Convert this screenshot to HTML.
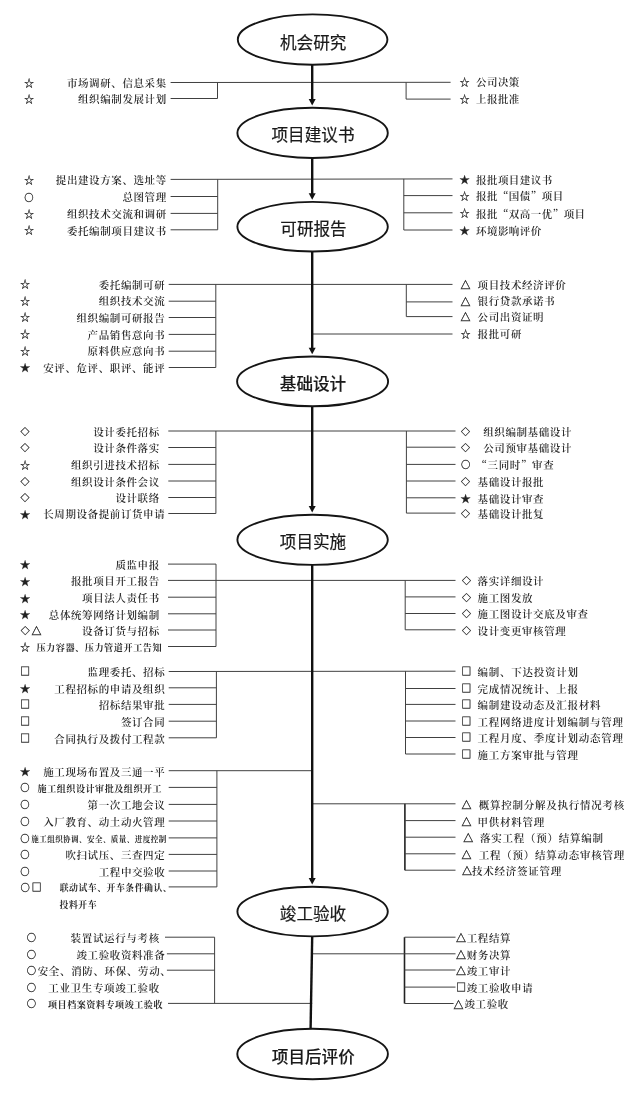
<!DOCTYPE html>
<html lang="zh-CN">
<head>
<meta charset="utf-8">
<title>项目建设流程图</title>
<style>
html,body{margin:0;padding:0;background:#fff;}
body{width:640px;height:1096px;overflow:hidden;}
svg{display:block;filter:blur(0.4px);}
.b{stroke:#404040;stroke-width:1;fill:none;}
.b2{stroke:#222;stroke-width:1.6;}
.k{stroke:#111;stroke-width:2.4;fill:none;}
.ah{fill:#111;stroke:none;}
.e{fill:#fff;stroke:#151515;stroke-width:1.9;}
.h{font-family:"Liberation Sans","Noto Sans CJK SC",sans-serif;font-size:16.6px;fill:#1a1a1a;font-weight:400;stroke:#1a1a1a;stroke-width:0.2px;}
.hb{font-weight:500;stroke-width:0.12px;}
.t{font-family:"Liberation Serif","Noto Serif CJK SC",serif;font-size:10.5px;letter-spacing:0.6px;fill:#2a2a2a;font-weight:600;}
.q{font-family:"Noto Serif CJK SC","Liberation Serif",serif;}
.o{stroke:#3a3a3a;stroke-width:0.35px;}
.p{stroke:#333;stroke-width:0.25px;}
.s{font-family:"Noto Serif CJK SC","Liberation Serif",serif;font-size:11px;fill:#222;}
.y0{font-size:10.2px;}
.y1{font-size:9.4px;}
.y2{font-size:9.0px;}
.y3{font-size:10px;}
.t4{font-size:9.17px;letter-spacing:0.52px;font-weight:700;}
.y5{font-size:9.7px;}
.t6{font-size:9.07px;letter-spacing:0.52px;font-weight:700;}
.t7{font-size:7.54px;letter-spacing:0.43px;font-weight:700;}
.t8{font-size:8.88px;letter-spacing:0.5px;font-weight:700;}
.t9{font-size:10.5px;letter-spacing:0.65px;}
.t10{font-size:10.5px;letter-spacing:0.45px;}
.t11{font-size:10.5px;letter-spacing:0.75px;}
</style>
</head>
<body>
<svg width="640" height="1096" viewBox="0 0 640 1096">
<rect x="0" y="0" width="640" height="1096" fill="#fff"/>
<line class="b" x1="217.5" y1="82.5" x2="217.5" y2="98.5"/>
<line class="b" x1="170.6" y1="98.5" x2="217.5" y2="98.5"/>
<line class="b" x1="217.7" y1="179.4" x2="217.7" y2="229.8"/>
<line class="b" x1="170.6" y1="196.5" x2="217.7" y2="196.5"/>
<line class="b" x1="170.6" y1="213.4" x2="217.7" y2="213.4"/>
<line class="b" x1="170.6" y1="229.8" x2="217.7" y2="229.8"/>
<line class="b" x1="215.8" y1="284.4" x2="215.8" y2="367.5"/>
<line class="b" x1="168.7" y1="301.2" x2="215.8" y2="301.2"/>
<line class="b" x1="168.7" y1="317.5" x2="215.8" y2="317.5"/>
<line class="b" x1="168.7" y1="334.4" x2="215.8" y2="334.4"/>
<line class="b" x1="168.7" y1="351.2" x2="215.8" y2="351.2"/>
<line class="b" x1="168.7" y1="367.5" x2="215.8" y2="367.5"/>
<line class="b" x1="215.9" y1="431.0" x2="215.9" y2="513.5"/>
<line class="b" x1="168.3" y1="447.5" x2="215.9" y2="447.5"/>
<line class="b" x1="168.3" y1="464.4" x2="215.9" y2="464.4"/>
<line class="b" x1="168.3" y1="481.0" x2="215.9" y2="481.0"/>
<line class="b" x1="168.3" y1="497.5" x2="215.9" y2="497.5"/>
<line class="b" x1="168.3" y1="513.5" x2="215.9" y2="513.5"/>
<line class="b" x1="216.0" y1="564.1" x2="216.0" y2="646.5"/>
<line class="b" x1="168.0" y1="564.1" x2="216.0" y2="564.1"/>
<line class="b" x1="168.0" y1="597.2" x2="216.0" y2="597.2"/>
<line class="b" x1="168.0" y1="613.8" x2="216.0" y2="613.8"/>
<line class="b" x1="168.0" y1="630.0" x2="216.0" y2="630.0"/>
<line class="b" x1="168.0" y1="646.5" x2="216.0" y2="646.5"/>
<line class="b" x1="216.4" y1="671.5" x2="216.4" y2="737.8"/>
<line class="b" x1="168.7" y1="687.8" x2="216.4" y2="687.8"/>
<line class="b" x1="168.7" y1="704.4" x2="216.4" y2="704.4"/>
<line class="b" x1="168.7" y1="721.2" x2="216.4" y2="721.2"/>
<line class="b" x1="168.7" y1="737.8" x2="216.4" y2="737.8"/>
<line class="b" x1="216.9" y1="770.7" x2="216.9" y2="886.9"/>
<line class="b" x1="168.7" y1="770.7" x2="312.2" y2="770.7"/>
<line class="b" x1="168.7" y1="787.4" x2="216.9" y2="787.4"/>
<line class="b" x1="168.7" y1="804.4" x2="216.9" y2="804.4"/>
<line class="b" x1="168.7" y1="821.0" x2="216.9" y2="821.0"/>
<line class="b" x1="168.7" y1="837.9" x2="216.9" y2="837.9"/>
<line class="b" x1="168.7" y1="854.4" x2="216.9" y2="854.4"/>
<line class="b" x1="168.7" y1="871.0" x2="216.9" y2="871.0"/>
<line class="b" x1="168.7" y1="886.9" x2="216.9" y2="886.9"/>
<line class="b" x1="214.6" y1="937.2" x2="214.6" y2="1003.4"/>
<line class="b" x1="165.0" y1="937.2" x2="214.6" y2="937.2"/>
<line class="b" x1="166.9" y1="953.8" x2="214.6" y2="953.8"/>
<line class="b" x1="166.9" y1="970.2" x2="214.6" y2="970.2"/>
<line class="b" x1="168.0" y1="1003.4" x2="312.2" y2="1003.4"/>
<line class="b" x1="406.1" y1="82.3" x2="406.1" y2="99.1"/>
<line class="b" x1="406.1" y1="99.1" x2="450.6" y2="99.1"/>
<line class="b" x1="403.8" y1="178.9" x2="403.8" y2="230.0"/>
<line class="b" x1="403.8" y1="195.6" x2="452.5" y2="195.6"/>
<line class="b" x1="403.8" y1="212.8" x2="452.5" y2="212.8"/>
<line class="b" x1="403.8" y1="230.0" x2="452.5" y2="230.0"/>
<line class="b" x1="406.3" y1="284.4" x2="406.3" y2="316.6"/>
<line class="b" x1="406.3" y1="301.9" x2="452.5" y2="301.9"/>
<line class="b" x1="406.3" y1="316.6" x2="452.5" y2="316.6"/>
<line class="b" x1="312.2" y1="334.0" x2="452.5" y2="334.0"/>
<line class="b" x1="406.4" y1="431.0" x2="406.4" y2="513.1"/>
<line class="b" x1="406.4" y1="447.2" x2="455.5" y2="447.2"/>
<line class="b" x1="406.4" y1="464.4" x2="455.5" y2="464.4"/>
<line class="b" x1="406.4" y1="481.0" x2="455.5" y2="481.0"/>
<line class="b" x1="406.4" y1="497.8" x2="455.5" y2="497.8"/>
<line class="b" x1="406.4" y1="513.1" x2="455.5" y2="513.1"/>
<line class="b" x1="405.2" y1="580.4" x2="405.2" y2="629.8"/>
<line class="b" x1="405.2" y1="596.9" x2="455.5" y2="596.9"/>
<line class="b" x1="405.2" y1="613.5" x2="455.5" y2="613.5"/>
<line class="b" x1="405.2" y1="629.8" x2="455.5" y2="629.8"/>
<line class="b" x1="405.5" y1="671.2" x2="405.5" y2="754.0"/>
<line class="b" x1="405.5" y1="688.5" x2="455.5" y2="688.5"/>
<line class="b" x1="405.5" y1="704.4" x2="455.5" y2="704.4"/>
<line class="b" x1="405.5" y1="721.0" x2="455.5" y2="721.0"/>
<line class="b" x1="405.5" y1="737.5" x2="455.5" y2="737.5"/>
<line class="b" x1="405.5" y1="754.0" x2="455.5" y2="754.0"/>
<line class="b b2" x1="404.9" y1="803.8" x2="404.9" y2="870.2"/>
<line class="b" x1="312.2" y1="803.8" x2="455.5" y2="803.8"/>
<line class="b" x1="404.9" y1="820.6" x2="455.5" y2="820.6"/>
<line class="b" x1="404.9" y1="837.2" x2="455.5" y2="837.2"/>
<line class="b" x1="404.9" y1="853.8" x2="455.5" y2="853.8"/>
<line class="b" x1="404.9" y1="870.2" x2="455.5" y2="870.2"/>
<line class="b b2" x1="404.5" y1="937.2" x2="404.5" y2="1003.5"/>
<line class="b" x1="404.5" y1="937.2" x2="455.5" y2="937.2"/>
<line class="b" x1="312.2" y1="953.8" x2="455.5" y2="953.8"/>
<line class="b" x1="404.5" y1="970.0" x2="455.5" y2="970.0"/>
<line class="b" x1="404.5" y1="987.1" x2="455.5" y2="987.1"/>
<line class="b" x1="404.5" y1="1003.5" x2="453.6" y2="1003.5"/>
<line class="b" x1="170.6" y1="82.5" x2="450.6" y2="82.3"/>
<line class="b" x1="170.6" y1="179.4" x2="452.5" y2="178.9"/>
<line class="b" x1="168.7" y1="284.4" x2="452.5" y2="284.4"/>
<line class="b" x1="168.3" y1="431.0" x2="455.5" y2="431.0"/>
<line class="b" x1="168.0" y1="580.4" x2="455.5" y2="580.4"/>
<line class="b" x1="168.7" y1="671.5" x2="455.5" y2="671.2"/>
<line class="k" x1="312.2" y1="64.8" x2="312.2" y2="101.8"/>
<path class="ah" d="M308.7 99.0 L315.7 99.0 L312.2 105.5 Z"/>
<line class="k" x1="312.2" y1="158.0" x2="312.2" y2="196.0"/>
<path class="ah" d="M308.7 193.2 L315.7 193.2 L312.2 199.8 Z"/>
<line class="k" x1="312.2" y1="251.4" x2="312.2" y2="350.5"/>
<path class="ah" d="M308.7 347.7 L315.7 347.7 L312.2 354.3 Z"/>
<line class="k" x1="312.2" y1="406.2" x2="312.2" y2="508.8"/>
<path class="ah" d="M308.7 505.9 L315.7 505.9 L312.2 512.5 Z"/>
<line class="k" x1="312.2" y1="564.9" x2="312.2" y2="880.8"/>
<path class="ah" d="M308.7 878.0 L315.7 878.0 L312.2 884.5 Z"/>
<line class="k" x1="312.2" y1="936.4" x2="310.6" y2="1028.2"/>
<ellipse class="e" cx="312.6" cy="39.6" rx="74.8" ry="25.2"/>
<text class="h" x="313.2" y="48.8" text-anchor="middle">机会研究</text>
<ellipse class="e" cx="312.6" cy="132.9" rx="75.2" ry="25.1"/>
<text class="h" x="313" y="140.9" text-anchor="middle">项目建议书</text>
<ellipse class="e" cx="312.6" cy="226.7" rx="75.2" ry="24.8"/>
<text class="h" x="313.5" y="234.7" text-anchor="middle">可研报告</text>
<ellipse class="e" cx="312.6" cy="381.4" rx="75.5" ry="24.9"/>
<text class="h hb" x="313" y="389.6" text-anchor="middle">基础设计</text>
<ellipse class="e" cx="312.6" cy="539.8" rx="75.2" ry="25.1"/>
<text class="h" x="313" y="547.9" text-anchor="middle">项目实施</text>
<ellipse class="e" cx="312.6" cy="911.6" rx="75.2" ry="24.8"/>
<text class="h" x="313" y="919.6" text-anchor="middle">竣工验收</text>
<ellipse class="e" cx="312.6" cy="1054" rx="75.3" ry="25.2"/>
<text class="h hb" x="313.3" y="1062.7" text-anchor="middle">项目后评价</text>
<text class="s p y0" x="29.0" y="86.8" text-anchor="middle">☆</text>
<text class="t" x="166.8" y="87.4" text-anchor="end">市场调研、信息采集</text>
<text class="s p y0" x="29.0" y="102.8" text-anchor="middle">☆</text>
<text class="t" x="166.8" y="103.4" text-anchor="end">组织编制发展计划</text>
<text class="s p y0" x="29.0" y="183.7" text-anchor="middle">☆</text>
<text class="t" x="166.8" y="184.3" text-anchor="end">提出建设方案、选址等</text>
<text class="s o y1" x="29.0" y="200.5" text-anchor="middle">○</text>
<text class="t" x="166.8" y="201.4" text-anchor="end">总图管理</text>
<text class="s p y0" x="29.0" y="217.7" text-anchor="middle">☆</text>
<text class="t" x="166.8" y="218.3" text-anchor="end">组织技术交流和调研</text>
<text class="s p y0" x="29.0" y="234.1" text-anchor="middle">☆</text>
<text class="t" x="166.8" y="234.7" text-anchor="end">委托编制项目建议书</text>
<text class="s p y0" x="25.0" y="287.9" text-anchor="middle">☆</text>
<text class="t" x="165.3" y="288.5" text-anchor="end">委托编制可研</text>
<text class="s p y0" x="25.0" y="304.8" text-anchor="middle">☆</text>
<text class="t" x="165.3" y="305.3" text-anchor="end">组织技术交流</text>
<text class="s p y0" x="25.0" y="321.0" text-anchor="middle">☆</text>
<text class="t" x="165.3" y="321.6" text-anchor="end">组织编制可研报告</text>
<text class="s p y0" x="25.0" y="337.9" text-anchor="middle">☆</text>
<text class="t" x="165.3" y="338.5" text-anchor="end">产品销售意向书</text>
<text class="s p y0" x="25.0" y="354.8" text-anchor="middle">☆</text>
<text class="t" x="165.3" y="355.3" text-anchor="end">原料供应意向书</text>
<text class="s p y0" x="25.0" y="371.0" text-anchor="middle">★</text>
<text class="t" x="165.3" y="371.6" text-anchor="end">安评、危评、职评、能评</text>
<text class="s o y2" x="25.0" y="434.8" text-anchor="middle">◇</text>
<text class="t" x="159.8" y="435.9" text-anchor="end">设计委托招标</text>
<text class="s o y2" x="25.0" y="451.3" text-anchor="middle">◇</text>
<text class="t" x="159.8" y="452.4" text-anchor="end">设计条件落实</text>
<text class="s p y0" x="25.0" y="468.7" text-anchor="middle">☆</text>
<text class="t" x="159.8" y="469.3" text-anchor="end">组织引进技术招标</text>
<text class="s o y2" x="25.0" y="484.8" text-anchor="middle">◇</text>
<text class="t" x="159.8" y="485.9" text-anchor="end">组织设计条件会议</text>
<text class="s o y2" x="25.0" y="501.3" text-anchor="middle">◇</text>
<text class="t" x="159.8" y="502.4" text-anchor="end">设计联络</text>
<text class="s p y0" x="25.0" y="517.8" text-anchor="middle">★</text>
<text class="t" x="165.3" y="518.4" text-anchor="end">长周期设备提前订货申请</text>
<text class="s p y0" x="25.0" y="568.4" text-anchor="middle">★</text>
<text class="t" x="159.8" y="569.0" text-anchor="end">质监申报</text>
<text class="s p y0" x="25.0" y="584.7" text-anchor="middle">★</text>
<text class="t" x="159.8" y="585.3" text-anchor="end">报批项目开工报告</text>
<text class="s p y0" x="25.0" y="601.5" text-anchor="middle">★</text>
<text class="t" x="159.8" y="602.1" text-anchor="end">项目法人责任书</text>
<text class="s p y0" x="25.0" y="618.0" text-anchor="middle">★</text>
<text class="t" x="159.8" y="618.6" text-anchor="end">总体统筹网络计划编制</text>
<text class="s o y2" x="25.3" y="633.8" text-anchor="middle">◇</text>
<text class="s o y3" x="36.6" y="635.1" text-anchor="middle">△</text>
<text class="t" x="159.8" y="634.9" text-anchor="end">设备订货与招标</text>
<text class="s p y0" x="25.0" y="650.8" text-anchor="middle">☆</text>
<text class="t t4" x="162.2" y="650.8" text-anchor="end">压力容器、压力管道开工告知</text>
<text class="s o y5" x="25.0" y="675.4" text-anchor="middle">□</text>
<text class="t" x="165.3" y="676.4" text-anchor="end">监理委托、招标</text>
<text class="s p y0" x="25.0" y="692.0" text-anchor="middle">★</text>
<text class="t" x="165.3" y="692.6" text-anchor="end">工程招标的申请及组织</text>
<text class="s o y5" x="25.0" y="708.3" text-anchor="middle">□</text>
<text class="t" x="165.3" y="709.3" text-anchor="end">招标结果审批</text>
<text class="s o y5" x="25.0" y="725.1" text-anchor="middle">□</text>
<text class="t" x="165.3" y="726.1" text-anchor="end">签订合同</text>
<text class="s o y5" x="25.0" y="741.6" text-anchor="middle">□</text>
<text class="t" x="165.3" y="742.6" text-anchor="end">合同执行及拨付工程款</text>
<text class="s p y0" x="25.0" y="775.0" text-anchor="middle">★</text>
<text class="t" x="165.3" y="775.6" text-anchor="end">施工现场布置及三通一平</text>
<text class="s o y1" x="25.0" y="791.4" text-anchor="middle">○</text>
<text class="t t6" x="162.2" y="791.7" text-anchor="end">施工组织设计审批及组织开工</text>
<text class="s o y1" x="25.0" y="808.4" text-anchor="middle">○</text>
<text class="t" x="165.3" y="809.3" text-anchor="end">第一次工地会议</text>
<text class="s o y1" x="25.0" y="825.0" text-anchor="middle">○</text>
<text class="t" x="165.3" y="825.9" text-anchor="end">入厂教育、动土动火管理</text>
<text class="s o y1" x="25.0" y="841.9" text-anchor="middle">○</text>
<text class="t t7" x="166.6" y="841.5" text-anchor="end">施工组织协调、安全、质量、进度控制</text>
<text class="s o y1" x="25.0" y="858.4" text-anchor="middle">○</text>
<text class="t" x="165.3" y="859.3" text-anchor="end">吹扫试压、三查四定</text>
<text class="s o y1" x="25.0" y="875.0" text-anchor="middle">○</text>
<text class="t" x="165.3" y="875.9" text-anchor="end">工程中交验收</text>
<text class="s o y1" x="25.3" y="890.9" text-anchor="middle">○</text>
<text class="s o y5" x="36.6" y="890.8" text-anchor="middle">□</text>
<text class="t t8" x="172.2" y="891.1" text-anchor="end">联动试车、开车条件确认、</text>
<text class="s o y1" x="31.4" y="941.2" text-anchor="middle">○</text>
<text class="t t9" x="159.8" y="942.1" text-anchor="end">装置试运行与考核</text>
<text class="s o y1" x="31.4" y="957.8" text-anchor="middle">○</text>
<text class="t" x="165.3" y="958.6" text-anchor="end">竣工验收资料准备</text>
<text class="s o y1" x="31.4" y="974.2" text-anchor="middle">○</text>
<text class="t t9" x="171.5" y="975.1" text-anchor="end">安全、消防、环保、劳动、</text>
<text class="s o y1" x="31.4" y="990.9" text-anchor="middle">○</text>
<text class="t t9" x="159.8" y="991.8" text-anchor="end">工业卫生专项竣工验收</text>
<text class="s o y1" x="31.4" y="1007.4" text-anchor="middle">○</text>
<text class="t t6" x="163.0" y="1007.7" text-anchor="end">项目档案资料专项竣工验收</text>
<text class="t t8" x="59.6" y="908.4">投料开车</text>
<text class="s p y0" x="464.5" y="85.7" text-anchor="middle">☆</text>
<text class="t t10" x="476.0" y="86.2">公司决策</text>
<text class="s p y0" x="464.5" y="102.5" text-anchor="middle">☆</text>
<text class="t t10" x="476.0" y="103.0">上报批准</text>
<text class="s p y0" x="464.5" y="183.2" text-anchor="middle">★</text>
<text class="t t10" x="476.0" y="183.7">报批项目建议书</text>
<text class="s p y0" x="464.5" y="199.9" text-anchor="middle">☆</text>
<text class="t t10" x="476.0" y="200.4">报批<tspan class="q">“</tspan>国债<tspan class="q">”</tspan>项目</text>
<text class="s p y0" x="464.5" y="217.1" text-anchor="middle">☆</text>
<text class="t t10" x="476.0" y="217.6">报批<tspan class="q">“</tspan>双高一优<tspan class="q">”</tspan>项目</text>
<text class="s p y0" x="464.5" y="234.3" text-anchor="middle">★</text>
<text class="t t10" x="476.0" y="234.8">环境影响评价</text>
<text class="s o y3" x="465.6" y="288.7" text-anchor="middle">△</text>
<text class="t" x="477.6" y="288.5">项目技术经济评价</text>
<text class="s o y3" x="465.6" y="305.6" text-anchor="middle">△</text>
<text class="t" x="477.6" y="305.4">银行贷款承诺书</text>
<text class="s o y3" x="465.6" y="320.9" text-anchor="middle">△</text>
<text class="t" x="477.6" y="320.7">公司出资证明</text>
<text class="s p y0" x="465.6" y="337.5" text-anchor="middle">☆</text>
<text class="t" x="477.6" y="338.1">报批可研</text>
<text class="s o y2" x="465.6" y="434.8" text-anchor="middle">◇</text>
<text class="t" x="483.2" y="435.9">组织编制基础设计</text>
<text class="s o y2" x="465.6" y="451.1" text-anchor="middle">◇</text>
<text class="t" x="483.2" y="452.1">公司预审基础设计</text>
<text class="s o y1" x="465.6" y="468.4" text-anchor="middle">○</text>
<text class="t" x="476.5" y="469.3"><tspan class="q">“</tspan>三同时<tspan class="q">”</tspan>审查</text>
<text class="s o y2" x="465.6" y="484.8" text-anchor="middle">◇</text>
<text class="t" x="477.6" y="485.9">基础设计报批</text>
<text class="s p y0" x="465.6" y="502.1" text-anchor="middle">★</text>
<text class="t" x="477.6" y="502.6">基础设计审查</text>
<text class="s o y2" x="465.6" y="516.9" text-anchor="middle">◇</text>
<text class="t" x="477.6" y="518.0">基础设计批复</text>
<text class="s o y2" x="466.4" y="584.2" text-anchor="middle">◇</text>
<text class="t" x="477.6" y="585.3">落实详细设计</text>
<text class="s o y2" x="466.4" y="600.7" text-anchor="middle">◇</text>
<text class="t" x="477.6" y="601.8">施工图发放</text>
<text class="s o y2" x="466.4" y="617.3" text-anchor="middle">◇</text>
<text class="t" x="477.6" y="618.4">施工图设计交底及审查</text>
<text class="s o y2" x="466.4" y="633.5" text-anchor="middle">◇</text>
<text class="t" x="477.6" y="634.6">设计变更审核管理</text>
<text class="s o y5" x="466.4" y="675.1" text-anchor="middle">□</text>
<text class="t t11" x="477.6" y="676.2">编制、下达投资计划</text>
<text class="s o y5" x="466.4" y="692.4" text-anchor="middle">□</text>
<text class="t t11" x="477.6" y="693.4">完成情况统计、上报</text>
<text class="s o y5" x="466.4" y="708.3" text-anchor="middle">□</text>
<text class="t t11" x="477.6" y="709.3">编制建设动态及汇报材料</text>
<text class="s o y5" x="466.4" y="724.9" text-anchor="middle">□</text>
<text class="t t11" x="477.6" y="725.9">工程网络进度计划编制与管理</text>
<text class="s o y5" x="466.4" y="741.4" text-anchor="middle">□</text>
<text class="t t11" x="477.6" y="742.4">工程月度、季度计划动态管理</text>
<text class="s o y5" x="466.4" y="757.9" text-anchor="middle">□</text>
<text class="t t11" x="477.6" y="758.9">施工方案审批与管理</text>
<text class="s o y3" x="466.4" y="808.9" text-anchor="middle">△</text>
<text class="t t11" x="478.7" y="808.7">概算控制分解及执行情况考核</text>
<text class="s o y3" x="466.4" y="825.7" text-anchor="middle">△</text>
<text class="t t11" x="477.6" y="825.5">甲供材料管理</text>
<text class="s o y3" x="468.2" y="842.4" text-anchor="middle">△</text>
<text class="t t11" x="479.9" y="842.2">落实工程（预）结算编制</text>
<text class="s o y3" x="466.4" y="858.9" text-anchor="middle">△</text>
<text class="t t11" x="478.7" y="858.7">工程（预）结算动态审核管理</text>
<text class="s o y3" x="467.0" y="875.4" text-anchor="middle">△</text>
<text class="t t11" x="472.0" y="875.2">技术经济签证管理</text>
<text class="s o y3" x="461.0" y="942.4" text-anchor="middle">△</text>
<text class="t" x="466.7" y="942.1">工程结算</text>
<text class="s o y3" x="461.0" y="958.9" text-anchor="middle">△</text>
<text class="t" x="466.7" y="958.6">财务决算</text>
<text class="s o y3" x="461.0" y="975.1" text-anchor="middle">△</text>
<text class="t" x="466.7" y="974.9">竣工审计</text>
<text class="s o y5" x="461.0" y="991.0" text-anchor="middle">□</text>
<text class="t" x="466.7" y="992.0">竣工验收申请</text>
<text class="s o y3" x="458.6" y="1008.6" text-anchor="middle">△</text>
<text class="t" x="464.5" y="1008.4">竣工验收</text>
</svg>
</body>
</html>
